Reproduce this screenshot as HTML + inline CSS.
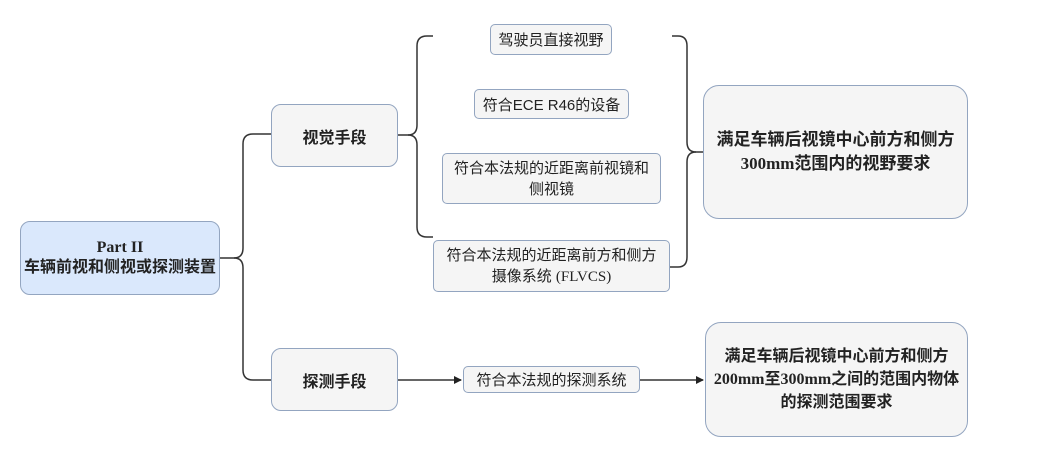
<!DOCTYPE html>
<html><head><meta charset="utf-8"><style>
body{margin:0;width:1064px;height:461px;background:#fff;position:relative;overflow:hidden;font-family:"Liberation Sans","Noto Sans CJK SC",sans-serif;}
.b{position:absolute;box-sizing:border-box;border:1.5px solid #93a5c0;background:#f5f5f5;display:flex;align-items:center;justify-content:center;text-align:center;color:#222;}
.bold{font-weight:bold;font-family:"Liberation Serif","Noto Sans CJK SC",sans-serif;}
.s{font-family:"Liberation Serif","Noto Sans CJK SC",serif;}
svg{position:absolute;left:0;top:0;}
</style></head><body>
<svg width="1064" height="461" viewBox="0 0 1064 461">
<defs><marker id="a" markerWidth="8" markerHeight="8" refX="7" refY="4" orient="auto" markerUnits="userSpaceOnUse"><path d="M0,0 L8,4 L0,8 Z" fill="#222"/></marker></defs>
<g fill="none" stroke="#333" stroke-width="1.5">
<path d="M220,258 H234 Q243,258 243,248 V144 Q243,134 253,134 H271"/>
<path d="M234,258 Q243,258 243,268 V370 Q243,380 253,380 H271"/>
<path d="M398,135 H408 Q417,135 417,125 V46 Q417,36 427,36 H433"/>
<path d="M408,135 Q417,135 417,145 V227 Q417,237 427,237 H433"/>
<path d="M672,36 H678 Q687,36 687,46 V142 Q687,152 696,152 H703"/>
<path d="M670,267 H678 Q687,267 687,257 V162 Q687,152 696,152"/>
<path d="M398,380 H461" marker-end="url(#a)"/>
<path d="M640,380 H703" marker-end="url(#a)"/>
</g></svg>
<div class="b bold" style="left:20px;top:221px;width:200px;height:74px;background:#dae8fc;border-radius:10px;font-size:16px;line-height:20px;"><div>Part II<br>车辆前视和侧视或探测装置</div></div>
<div class="b bold" style="left:271px;top:104px;width:127px;height:63px;border-radius:10px;font-size:16px;">视觉手段</div>
<div class="b bold" style="left:271px;top:348px;width:127px;height:63px;border-radius:10px;font-size:16px;">探测手段</div>
<div class="b" style="left:490px;top:24px;width:122px;height:31px;border-radius:5px;font-size:15px;">驾驶员直接视野</div>
<div class="b" style="left:474px;top:89px;width:155px;height:30px;border-radius:5px;font-size:15px;">符合ECE R46的设备</div>
<div class="b" style="left:442px;top:153px;width:219px;height:51px;border-radius:5px;font-size:15px;line-height:21px;"><div>符合本法规的近距离前视镜和<br>侧视镜</div></div>
<div class="b" style="left:433px;top:240px;width:237px;height:52px;border-radius:5px;font-size:15px;line-height:21px;"><div>符合本法规的近距离前方和侧方<br>摄像系统 <span class="s">(FLVCS)</span></div></div>
<div class="b bold" style="left:703px;top:85px;width:265px;height:134px;border-radius:16px;font-size:17px;line-height:24px;"><div>满足车辆后视镜中心前方和侧方<br>300mm范围内的视野要求</div></div>
<div class="b" style="left:463px;top:366px;width:177px;height:27px;border-radius:5px;font-size:15px;">符合本法规的探测系统</div>
<div class="b bold" style="left:705px;top:322px;width:263px;height:115px;border-radius:16px;font-size:16px;line-height:23px;"><div>满足车辆后视镜中心前方和侧方<br>200mm至300mm之间的范围内物体<br>的探测范围要求</div></div>
</body></html>
